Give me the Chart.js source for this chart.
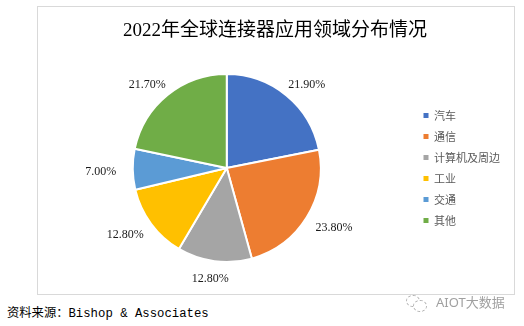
<!DOCTYPE html>
<html>
<head>
<meta charset="utf-8">
<script src="https://cdn.jsdelivr.net/npm/chart.js@4/dist/chart.umd.min.js"></script>
<style>
  html, body { margin: 0; padding: 0; background: #ffffff; width: 524px; height: 326px; overflow: hidden; }
  #box { position: absolute; left: 37px; top: 6px; width: 476px; height: 287px; border: 1px solid #d9d9d9; }
  #box canvas { position: absolute; left: 0; top: 0; }
  #source { position: absolute; left: 7px; top: 306px; font: 12.3px "Liberation Mono", "Noto Sans CJK SC", monospace; line-height: 17px; color: #000; white-space: nowrap; }
  #wm { position: absolute; left: 436px; top: 294px; font: 13px "Noto Sans", "Noto Sans CJK SC", sans-serif; line-height: 17px; color: #a0a0a0; white-space: nowrap; }
  #icon1 { position: absolute; left: 406px; top: 295px; width: 12px; height: 10px; border: 1px dashed #b0b0b0; border-radius: 50%; }
  #icon2 { position: absolute; left: 413px; top: 300px; width: 12px; height: 10px; border: 1px dashed #b0b0b0; border-radius: 50%; background: #fff; }
</style>
</head>
<body>
<div id="box"><canvas id="c" width="476" height="287"></canvas></div>
<div id="source">资料来源：Bishop &amp; Associates</div>
<div id="icon1"></div><div id="icon2"></div>
<div id="wm">AIOT大数据</div>
<script>
const titleText = '2022年全球连接器应用领域分布情况';
const categories = ['汽车', '通信', '计算机及周边', '工业', '交通', '其他'];
const shares = [21.9, 23.8, 12.8, 12.8, 7.0, 21.7];
const colors = ['#4472C4', '#ED7D31', '#A5A5A5', '#FFC000', '#5B9BD5', '#70AD47'];

const outsideLabels = {
  id: 'outsideLabels',
  afterDatasetsDraw(chart) {
    const ctx = chart.ctx;
    const meta = chart.getDatasetMeta(0);
    const data = chart.data.datasets[0].data;
    ctx.save();
    ctx.font = '12px "Liberation Serif", "Times New Roman", serif';
    ctx.fillStyle = '#1a1a1a';
    ctx.textAlign = 'center';
    ctx.textBaseline = 'middle';
    meta.data.forEach((arc, i) => {
      const p = arc.getProps(['x', 'y', 'startAngle', 'endAngle', 'outerRadius'], true);
      const mid = (p.startAngle + p.endAngle) / 2;
      const ax = p.outerRadius + 32;
      const by = p.outerRadius + 16;
      const lx = p.x + Math.cos(mid) * ax;
      const ly = p.y + Math.sin(mid) * by + 2;
      ctx.fillText(data[i].toFixed(2) + '%', lx, ly);
    });
    ctx.restore();
  }
};

const defaultGen = Chart.overrides.pie.plugins.legend.labels.generateLabels;

new Chart(document.getElementById('c'), {
  type: 'pie',
  data: {
    labels: categories,
    datasets: [{
      data: shares,
      backgroundColor: colors,
      borderColor: '#ffffff',
      borderWidth: 2,
      hoverOffset: 0
    }]
  },
  options: {
    responsive: false,
    animation: false,
    events: [],
    layout: { padding: { left: 2, right: 4, top: 0, bottom: 31 } },
    plugins: {
      title: {
        display: true,
        text: titleText,
        color: '#000000',
        font: { family: '"Liberation Serif", "Noto Sans CJK SC", serif', size: 19, weight: 'normal' },
        padding: { top: 12.6, bottom: 30.6 }
      },
      legend: {
        position: 'right',
        align: 'center',
        fullSize: false,
        labels: {
          boxWidth: 5,
          boxHeight: 5,
          padding: 10,
          color: '#595959',
          font: { family: '"Noto Sans CJK SC", "Noto Sans", sans-serif', size: 11 },
          generateLabels(chart) {
            return defaultGen(chart).map(l => Object.assign(l, { lineWidth: 0, strokeStyle: 'rgba(0,0,0,0)' }));
          }
        }
      },
      tooltip: { enabled: false }
    }
  },
  plugins: [outsideLabels]
});
</script>
</body>
</html>
